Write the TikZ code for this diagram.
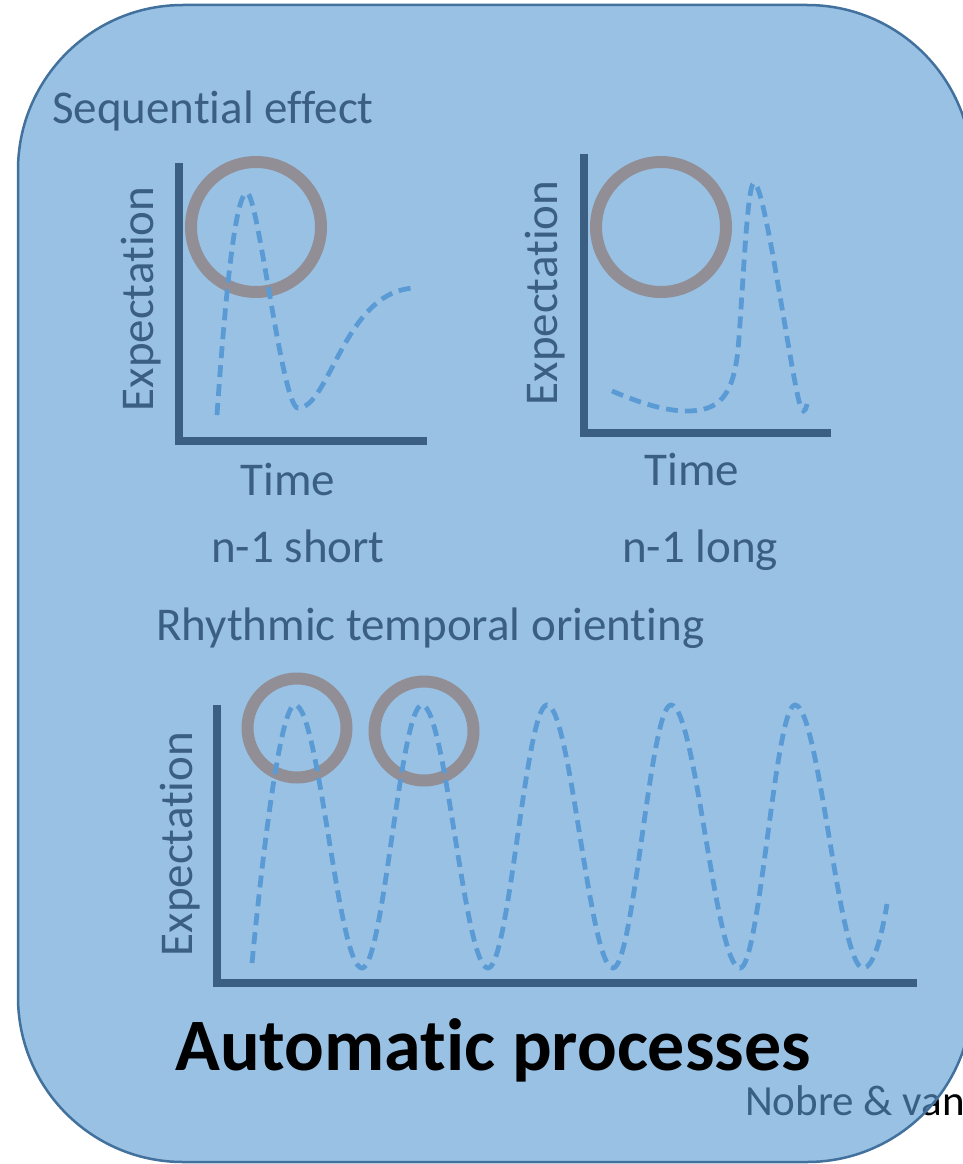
\documentclass[tikz,border=0pt]{standalone}
\usepackage{fontspec}
\setmainfont{Carlito}[Ligatures={NoCommon,NoContextual}, RawFeature={-clig}]
\definecolor{panelblue}{RGB}{91,155,213}
\definecolor{edgeblue}{RGB}{65,113,156}
\definecolor{inkblue}{RGB}{59,95,131}
\definecolor{ringgray}{RGB}{146,142,150}
\begin{document}
\begin{tikzpicture}[x=1pt, y=-1pt,
  lbl/.style={text=inkblue, inner sep=0pt, font=\fontsize{47}{56}\selectfont},
  ylbl/.style={lbl, rotate=90, anchor=base},
  axis/.style={draw=inkblue, line width=8pt},
  ring/.style={draw=ringgray, line width=12pt},
  wave/.style={draw=panelblue, line width=4.8pt, dash pattern=on 12pt off 7pt}]

  \useasboundingbox (0,0) rectangle (963,1164);
  \clip (0,0) rectangle (963,1164);
  \fill[white] (0,0) rectangle (963,1164);

  % Citation, partly under the panel
  \node[anchor=base west, inner sep=0pt, font=\fontsize{43}{51}\selectfont] (cite) at (745,1115) {Nobre \& van};

  % Panel
  \draw[fill=panelblue, fill opacity=0.62, draw=edgeblue, line width=2.5pt, rounded corners=165pt] (18,5) rectangle (972,1162);

  % Sequential effect
  \node[lbl, anchor=base west] (seq) at (52,123) {Sequential effect};

  % First plot: n-1 short
  \coordinate (y1) at (179,163);
  \coordinate (o1) at (179,441);
  \coordinate (x1) at (427,441);
  \draw[axis] (y1) -- (o1) -- (x1);
  \node[ylbl] (exp1) at (153,299) {Expectation};
  \node[lbl, anchor=base] (time1) at (288,495) {Time};
  \node[lbl, anchor=base] (short) at (298,562) {n-1 short};
  \draw[ring] (256,227) circle (65);
  \draw[wave] (217,415) .. controls (225,300) and (235,193) .. (247,193)
    .. controls (258,193) and (282,408) .. (298,408)
    .. controls (330,408) and (345,288) .. (417,288);

  % Second plot: n-1 long
  \coordinate (y2) at (584,154);
  \coordinate (o2) at (584,433);
  \coordinate (x2) at (831,433);
  \draw[axis] (y2) -- (o2) -- (x2);
  \node[ylbl] (exp2) at (557,293) {Expectation};
  \node[lbl, anchor=base] (time2) at (692,485) {Time};
  \node[lbl, anchor=base] (long) at (700,562) {n-1 long};
  \draw[ring] (661,227) circle (65);
  \draw[wave] (612,391) .. controls (640,403) and (665,411) .. (687,411)
    .. controls (720,411) and (733,395) .. (738,350)
    .. controls (743,290) and (747,183) .. (754,183)
    .. controls (765,183) and (790,370) .. (800,405)
    .. controls (802,412) and (805,414) .. (807,404);

  % Rhythmic temporal orienting
  \node[lbl, anchor=base west] (rhythm) at (156,640) {Rhythmic temporal orienting};
  \coordinate (y3) at (217,705);
  \coordinate (o3) at (217,983);
  \coordinate (x3) at (917,983);
  \draw[axis] (y3) -- (o3) -- (x3);
  \node[ylbl] (exp3) at (192,844) {Expectation};
  \draw[ring] (297,728) circle (49.5);
  \draw[ring] (424,731) circle (49.5);
  \draw[wave] (252,963) .. controls (262,860) and (280,705) .. (295,705)
    \foreach \xp/\xt/\xn in {295/362/422, 422/488/547, 547/613/671, 671/740/795} {
      .. controls ({\xp+0.36*(\xt-\xp)},705) and ({\xt-0.36*(\xt-\xp)},968) .. (\xt,968)
      .. controls ({\xt+0.36*(\xn-\xt)},968) and ({\xn-0.36*(\xn-\xt)},705) .. (\xn,705)
    }
    .. controls (819,705) and (839,968) .. (863,968)
    .. controls (873,968) and (881,940) .. (887,904);

  % Title
  \node[anchor=base west, inner sep=0pt, font=\fontsize{74}{88}\selectfont\bfseries] (auto) at (175,1070) {Automatic processes};

\end{tikzpicture}
\end{document}
